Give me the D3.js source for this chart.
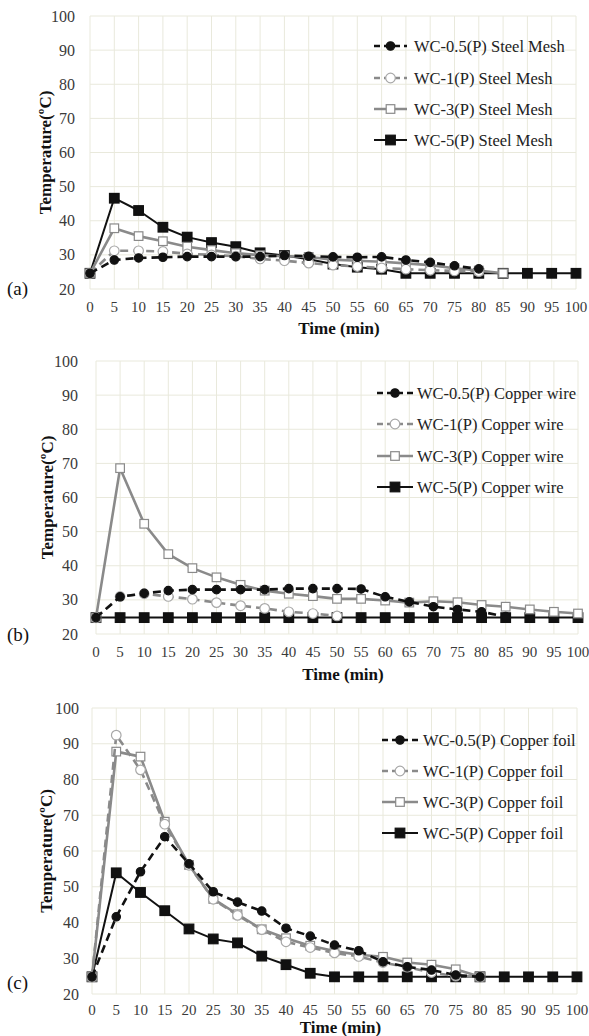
<!DOCTYPE html>
<html>
<head>
<meta charset="utf-8">
<script src="https://cdn.jsdelivr.net/npm/d3@7"></script>
<style>
  html, body { margin: 0; padding: 0; background: #fff; }
  svg { display: block; }
</style>
</head>
<body>
<svg id="chart" width="589" height="1036" font-family="'Liberation Serif', 'DejaVu Serif', 'Noto Serif', 'Times New Roman', Times, serif"></svg>
<script>
// Time axis (min) shared by every panel
const times = [0, 5, 10, 15, 20, 25, 30, 35, 40, 45, 50, 55, 60, 65, 70, 75, 80, 85, 90, 95, 100];
const yTicks = [20, 30, 40, 50, 60, 70, 80, 90, 100];
const seriesNames = ["WC-0.5(P)", "WC-1(P)", "WC-3(P)", "WC-5(P)"];

// (a) Steel mesh, temperature (°C) every 5 min
const steelWc05 = [24.6, 28.5, 29.1, 29.3, 29.5, 29.5, 29.5, 29.5, 29.8, 29.6, 29.4, 29.3, 29.4, 28.5, 27.8, 26.8, 25.9];
const steelWc1  = [24.6, 31.2, 31.2, 31.0, 30.3, 30.0, 29.6, 28.8, 28.3, 27.6, 27.0, 26.6, 26.2, 25.8, 25.5, 25.3, 25.1];
const steelWc3  = [24.6, 37.8, 35.5, 34.0, 32.4, 31.4, 30.5, 29.9, 29.6, 29.4, 28.6, 28.3, 28.0, 27.5, 27.0, 26.1, 25.4, 24.6];
const steelWc5  = [24.6, 46.6, 43.0, 38.1, 35.2, 33.6, 32.4, 30.6, 29.8, 28.7, 27.3, 26.4, 25.8, 24.6, 24.6, 24.6, 24.6, 24.6, 24.6, 24.6, 24.6];

// (b) Copper wire
const wireWc05 = [24.8, 30.9, 31.9, 32.7, 33.0, 33.0, 33.0, 33.0, 33.3, 33.3, 33.3, 33.2, 30.9, 29.4, 28.0, 27.2, 26.5, 25.1];
const wireWc1  = [24.8, 31.0, 31.8, 31.0, 30.2, 29.2, 28.3, 27.5, 26.5, 26.0, 25.3];
const wireWc3  = [24.8, 68.6, 52.3, 43.4, 39.3, 36.6, 34.4, 32.7, 31.8, 31.1, 30.3, 30.3, 29.8, 29.2, 29.6, 29.3, 28.5, 28.0, 27.2, 26.5, 26.0];
const wireWc5  = [24.8, 24.8, 24.8, 24.8, 24.8, 24.8, 24.8, 24.8, 24.8, 24.8, 24.8, 24.8, 24.8, 24.8, 24.8, 24.8, 24.8, 24.8, 24.8, 24.8, 24.8];

// (c) Copper foil
const foilWc05 = [24.8, 41.6, 54.2, 64.0, 56.4, 48.6, 45.7, 43.2, 38.4, 36.2, 33.7, 32.1, 29.0, 27.6, 26.7, 25.3, 24.8];
const foilWc1  = [24.8, 92.4, 82.7, 67.5, 56.0, 46.5, 42.0, 38.0, 34.6, 33.0, 31.5, 30.5, 28.8, 27.5, 26.0, 25.0, 24.8];
const foilWc3  = [24.8, 87.8, 86.4, 68.2, 56.1, 46.6, 42.3, 38.1, 35.6, 33.5, 32.0, 31.0, 30.4, 28.8, 28.2, 26.9, 24.8];
const foilWc5  = [24.8, 53.9, 48.4, 43.3, 38.2, 35.4, 34.3, 30.6, 28.2, 25.8, 24.8, 24.8, 24.8, 24.8, 24.8, 24.8, 24.8, 24.8, 24.8, 24.8, 24.8];

const BLACK = "#111", GRAY = "#8a8a8a", LIGHT = "#a8a8a8";

// line/marker styling per series (index matches seriesNames)
const styles = [
  { stroke: BLACK, width: 2.6, dash: "8,5", marker: "circle", fill: BLACK, mstroke: BLACK, r: 4.2 },
  { stroke: GRAY,  width: 2.6, dash: "8,5", marker: "circle", fill: "#fff", mstroke: LIGHT, r: 4.8 },
  { stroke: GRAY,  width: 2.6, dash: null,  marker: "square", fill: "#fff", mstroke: GRAY, r: 4.3 },
  { stroke: BLACK, width: 2.0, dash: null,  marker: "square", fill: BLACK, mstroke: BLACK, r: 4.8 }
];

const panels = [
  { tag: "(a)", material: "Steel Mesh", data: [steelWc05, steelWc1, steelWc3, steelWc5],
    box: { l: 90, r: 576, t: 16, b: 289 },
    legend: { x0: 374, x1: 407, tx: 414, ys: [46, 78, 109, 140] },
    yLabX: 75, yTitleX: 45, xTickY: 312, xTitleY: 334, tagY: 295 },
  { tag: "(b)", material: "Copper wire", data: [wireWc05, wireWc1, wireWc3, wireWc5],
    box: { l: 96, r: 578, t: 361, b: 634 },
    legend: { x0: 377, x1: 413, tx: 417, ys: [393, 424, 456, 487] },
    yLabX: 78, yTitleX: 47, xTickY: 657, xTitleY: 680, tagY: 641 },
  { tag: "(c)", material: "Copper foil", data: [foilWc05, foilWc1, foilWc3, foilWc5],
    box: { l: 92, r: 577, t: 708, b: 994 },
    legend: { x0: 382, x1: 418, tx: 423, ys: [740, 771, 802, 833] },
    yLabX: 79, yTitleX: 46, xTickY: 1015, xTitleY: 1033, tagY: 989 }
];

const svg = d3.select("#chart");

function drawMarker(g, kind, cx, cy, st) {
  if (kind === "circle") {
    g.append("circle").attr("cx", cx).attr("cy", cy).attr("r", st.r)
      .attr("fill", st.fill).attr("stroke", st.mstroke).attr("stroke-width", 1.2);
  } else {
    g.append("rect").attr("x", cx - st.r).attr("y", cy - st.r)
      .attr("width", st.r * 2).attr("height", st.r * 2)
      .attr("fill", st.fill).attr("stroke", st.mstroke).attr("stroke-width", 1.2);
  }
}

panels.forEach(p => {
  const x = d3.scaleLinear().domain([0, 100]).range([p.box.l, p.box.r]);
  const y = d3.scaleLinear().domain([20, 100]).range([p.box.b, p.box.t]);
  const g = svg.append("g");

  // grid
  g.append("g").selectAll("line").data(times).join("line")
    .attr("x1", d => x(d)).attr("x2", d => x(d))
    .attr("y1", y(20)).attr("y2", y(100))
    .attr("stroke", "#e9e9dc").attr("stroke-width", 1);
  g.append("g").selectAll("line").data(yTicks).join("line")
    .attr("x1", x(0)).attr("x2", x(100))
    .attr("y1", d => y(d)).attr("y2", d => y(d))
    .attr("stroke", "#e9e9dc").attr("stroke-width", 1);

  // y tick labels
  g.append("g").selectAll("text").data(yTicks).join("text")
    .attr("x", p.yLabX).attr("y", d => y(d) + 5.5)
    .attr("text-anchor", "end").attr("font-size", 16).attr("fill", "#3a3a3a")
    .text(d => d);

  // x tick labels
  g.append("g").selectAll("text").data(times).join("text")
    .attr("x", d => x(d)).attr("y", p.xTickY)
    .attr("text-anchor", "middle").attr("font-size", 15).attr("fill", "#3a3a3a")
    .text(d => d);

  // axis titles
  g.append("text")
    .attr("transform", `translate(${p.yTitleX},${(p.box.t + p.box.b) / 2}) rotate(-90)`)
    .attr("dy", "0.35em")
    .attr("text-anchor", "middle").attr("font-size", 17).attr("font-weight", "bold")
    .attr("fill", "#111").text("Temperature(ºC)");
  g.append("text")
    .attr("x", (p.box.l + p.box.r) / 2 + 6).attr("y", p.xTitleY)
    .attr("text-anchor", "middle").attr("font-size", 17).attr("font-weight", "bold")
    .attr("fill", "#111").text("Time (min)");

  // panel tag
  g.append("text").attr("x", 7).attr("y", p.tagY)
    .attr("font-size", 19).attr("fill", "#111").text(p.tag);

  // series: draw in reverse so WC-0.5 sits on top
  [3, 2, 1, 0].forEach(i => {
    const st = styles[i];
    const pts = p.data[i].map((v, k) => [times[k], v]);
    const line = d3.line().x(d => x(d[0])).y(d => y(d[1]));
    g.append("path").attr("d", line(pts))
      .attr("fill", "none").attr("stroke", st.stroke).attr("stroke-width", st.width)
      .attr("stroke-dasharray", st.dash).attr("stroke-linejoin", "round");
    const mg = g.append("g");
    pts.forEach(d => drawMarker(mg, st.marker, x(d[0]), y(d[1]), st));
  });

  // legend
  const lg = g.append("g");
  seriesNames.forEach((name, i) => {
    const st = styles[i];
    const ly = p.legend.ys[i];
    lg.append("line").attr("x1", p.legend.x0).attr("x2", p.legend.x1)
      .attr("y1", ly).attr("y2", ly)
      .attr("stroke", st.stroke).attr("stroke-width", st.width)
      .attr("stroke-dasharray", st.dash ? "6,4" : null);
    drawMarker(lg, st.marker, (p.legend.x0 + p.legend.x1) / 2, ly, st);
    lg.append("text").attr("x", p.legend.tx).attr("y", ly + 5.5)
      .attr("font-size", 16.5).attr("fill", "#222")
      .text(`${name} ${p.material}`);
  });
});
</script>
</body>
</html>
